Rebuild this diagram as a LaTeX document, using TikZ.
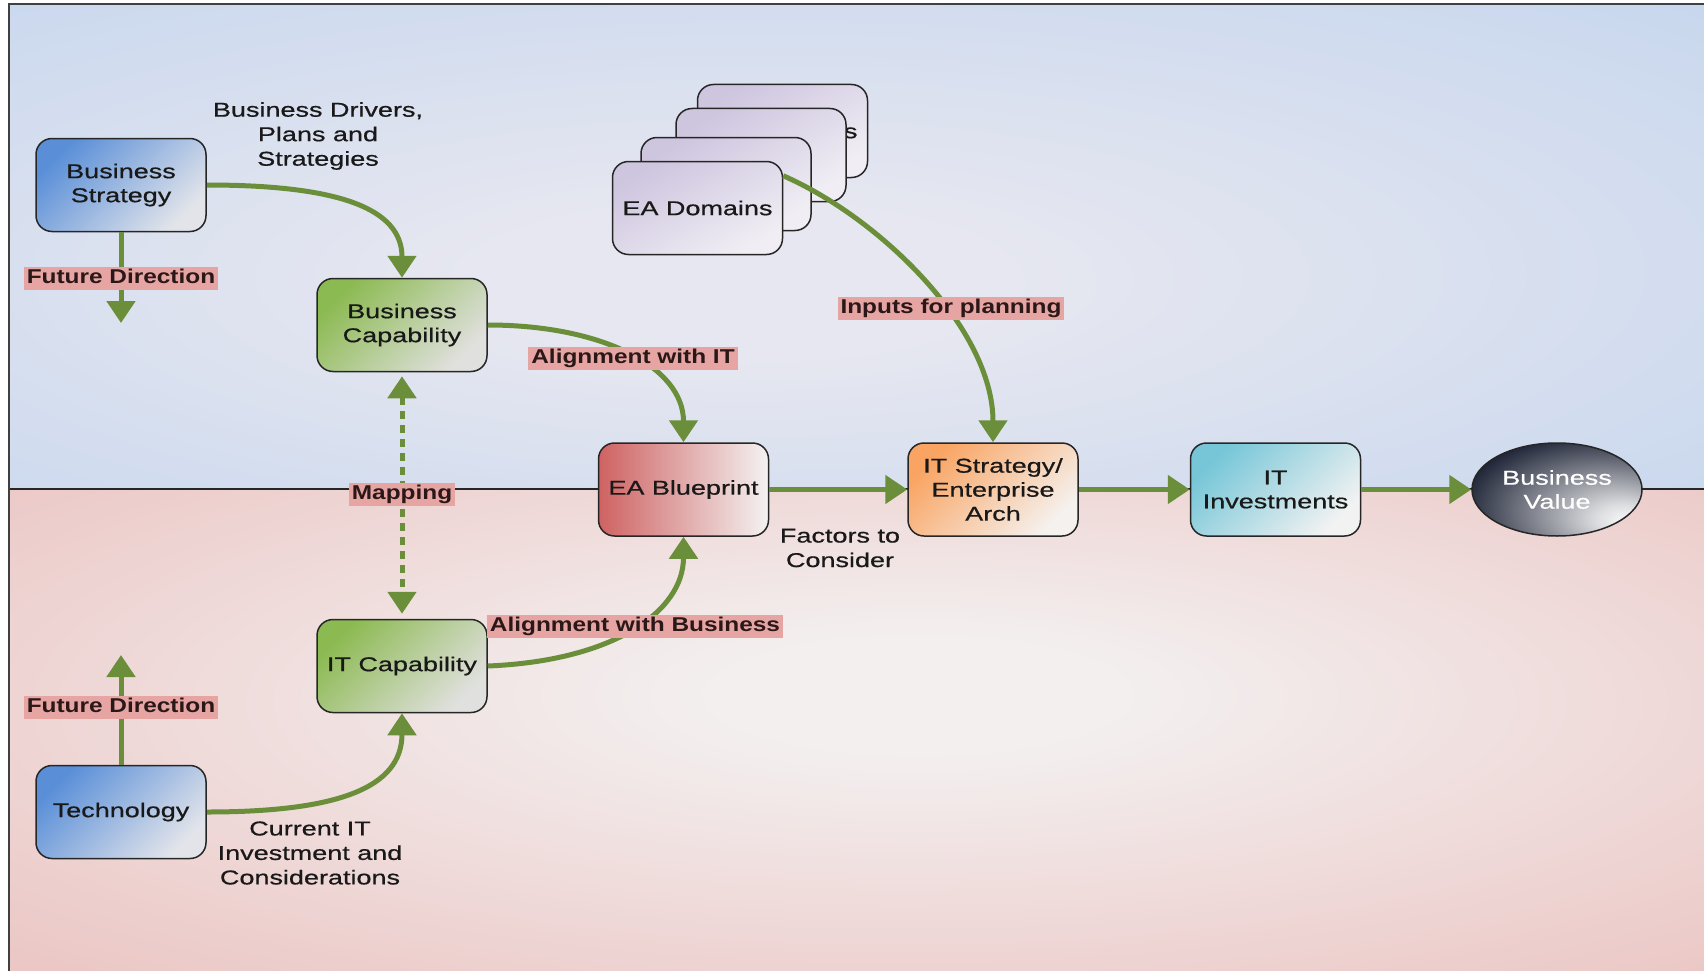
\documentclass[tikz,border=0pt]{standalone}
\usepackage{fontspec}
\usetikzlibrary{arrows.meta,shapes.geometric}
\newfontfamily\nfont[FakeStretch=1.35,FakeBold=0.6]{Liberation Sans}
\newfontfamily\bfont[FakeStretch=1.22]{Liberation Sans}

\definecolor{bgBlueIn}{HTML}{E6E7F0}
\definecolor{bgBlueOut}{HTML}{C8D7EE}
\definecolor{bgPinkIn}{HTML}{F3EFEF}
\definecolor{bgPinkOut}{HTML}{EBC8C6}
\definecolor{bsBlue}{HTML}{5A8FD8}
\definecolor{bsLight}{HTML}{E2E4EA}
\definecolor{capGreen}{HTML}{8CBA52}
\definecolor{capLight}{HTML}{E0E0DE}
\definecolor{strOrange}{HTML}{F9A462}
\definecolor{strLight}{HTML}{F5F1EE}
\definecolor{invCyan}{HTML}{76C6D8}
\definecolor{invLight}{HTML}{F2F2F2}
\definecolor{eaRed}{HTML}{CF6262}
\definecolor{eaLight}{HTML}{F4F2F2}
\definecolor{domLav}{HTML}{CEC5DF}
\definecolor{domLight}{HTML}{F0EEF4}
\definecolor{bvNavy}{HTML}{151B2E}
\definecolor{arrowGreen}{HTML}{6B8E3A}
\definecolor{lblPink}{HTML}{E6A5A3}
\definecolor{lblText}{HTML}{2A1818}

\pgfdeclareradialshading{bgblue}{\pgfpoint{-4bp}{-4bp}}{color(0bp)=(bgBlueIn); color(8bp)=(bgBlueIn); color(38bp)=(bgBlueOut); color(72bp)=(bgBlueOut)}
\pgfdeclareradialshading{bgpink}{\pgfpoint{2bp}{4bp}}{color(0bp)=(bgPinkIn); color(6bp)=(bgPinkIn); color(36bp)=(bgPinkOut); color(72bp)=(bgPinkOut)}
\pgfdeclareradialshading{bvshade}{\pgfpoint{22bp}{-18bp}}{color(0bp)=(white); color(8bp)=(white!85!bvNavy); color(40bp)=(bvNavy); color(72bp)=(bvNavy)}

\begin{document}
\begin{tikzpicture}[x=1pt,y=-1pt,
  box/.style={draw=black!85, line width=1.5pt, rounded corners=16pt,
    minimum width=170pt, minimum height=93pt, inner sep=2pt, align=center,
    text=black!90, font=\nfont\fontsize{20}{24}\selectfont},
  conn/.style={draw=arrowGreen, line width=5pt, -{Triangle[width=28pt,length=22pt]}},
  lbl/.style={fill=lblPink, inner xsep=3pt, inner ysep=2pt, text height=15pt,
    text depth=4pt, text=lblText, font=\bfont\bfseries\fontsize{20}{24}\selectfont},
  txt/.style={align=center, inner sep=0pt, text=black!90,
    font=\nfont\fontsize{20}{24.5}\selectfont}]
\useasboundingbox (0,0) rectangle (1704,971);

% two bands of the background
\shade[shading=bgblue] (9,4) rectangle (1704,489);
\shade[shading=bgpink] (9,489) rectangle (1704,971);
\draw[line width=1.6pt, black!85] (9,489) -- (1704,489);
\draw[line width=2pt, black!75] (9,971) -- (9,4) -- (1704,4);

% stack of EA domain cards, back to front
\node[box, top color=domLav, bottom color=domLight, shading angle=30] (ead4) at (782.5,131) {EA Domains};
\node[box, top color=domLav, bottom color=domLight, shading angle=30] (ead3) at (761,155) {};
\node[box, top color=domLav, bottom color=domLight, shading angle=30] (ead2) at (726,184) {};
\node[box, top color=domLav, bottom color=domLight, shading angle=30] (ead) at (697.5,208) {EA Domains};

% main nodes
\node[box, top color=bsBlue, bottom color=bsLight, shading angle=45] (bs) at (121,185) {Business\\Strategy};
\node[box, top color=capGreen, bottom color=capLight, shading angle=45] (bc) at (402,325) {Business\\Capability};
\node[box, top color=capGreen, bottom color=capLight, shading angle=45] (itc) at (402,666) {IT Capability};
\node[box, top color=bsBlue, bottom color=bsLight, shading angle=45] (tech) at (121,812) {Technology};
\node[box, left color=eaRed, right color=eaLight] (ea) at (683.5,489.5) {EA Blueprint};
\node[box, top color=strOrange, bottom color=strLight, shading angle=45] (its) at (993,489.5) {IT Strategy/\\Enterprise\\Arch};
\node[box, top color=invCyan, bottom color=invLight, shading angle=45] (itinv) at (1275.5,489.5) {IT\\Investments};
\node[ellipse, draw=black!85, line width=1.5pt, shading=bvshade, minimum width=170pt,
  minimum height=93pt, inner sep=0pt, align=center, text=white,
  font=\nfont\fontsize{20}{24}\selectfont] (bv) at (1557,489.5) {Business\\Value};

% free ends of the two direction arrows
\coordinate (fdTop) at (121,323);
\coordinate (fdBot) at (121,655);

% connectors
\draw[conn] (bs.east) .. controls +(130,0) and +(0,-70) .. (bc.north);
\draw[conn] (bs.south) -- (fdTop);
\draw[conn] (bc.east) .. controls +(115,0) and +(0,-75) .. (ea.north);
\draw[conn] (itc.east) .. controls +(125,-5) and +(0,75) .. (ea.south);
\draw[conn] (tech.east) .. controls +(130,0) and +(0,75) .. (itc.south);
\draw[conn] (tech.north) -- (fdBot);
\draw[conn] ([yshift=-15pt]ead.north east) .. controls +(98,43) and +(0,-113) .. (its.north);
\draw[conn, {Triangle[width=28pt,length=22pt]}-{Triangle[width=28pt,length=22pt]},
  dash pattern=on 8pt off 6pt, shorten <=4pt, shorten >=5pt]
  (bc.south) -- (itc.north);
\draw[conn] (ea.east) -- (its.west);
\draw[conn] (its.east) -- (itinv.west);
\draw[conn] (itinv.east) -- (bv.west);

% connector labels
\node[lbl] (lfdTop) at (121,278) {Future Direction};
\node[lbl] (lalIT) at (633,358) {Alignment with IT};
\node[lbl] (lmap) at (402,494) {Mapping};
\node[lbl] (lalBus) at (635,626) {Alignment with Business};
\node[lbl] (linp) at (951,308) {Inputs for planning};
\node[lbl] (lfdBot) at (121,707) {Future Direction};

\node[txt] (tdrv) at (318,136) {Business Drivers,\\Plans and\\Strategies};
\node[txt] (tfac) at (840,548) {Factors to\\Consider};
\node[txt] (tcur) at (310,853) {Current IT\\Investment and\\Considerations};
\end{tikzpicture}
\end{document}
